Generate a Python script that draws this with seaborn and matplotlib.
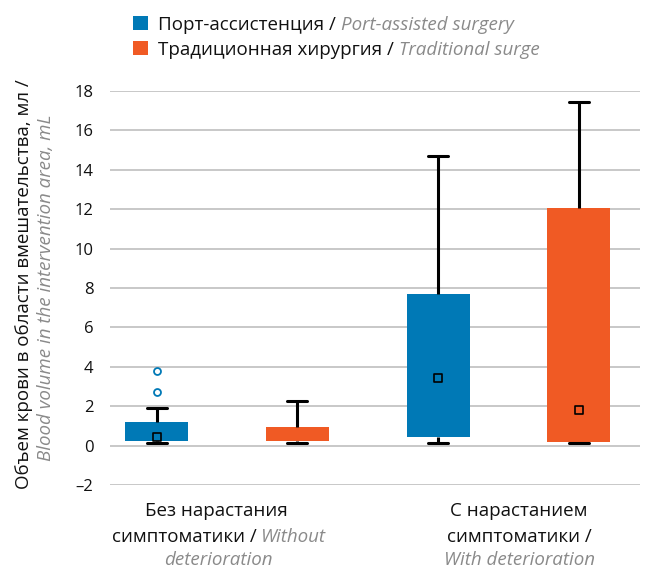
import matplotlib
matplotlib.use("Agg")
import matplotlib.pyplot as plt
import seaborn as sns
import numpy as np
from matplotlib.patches import Rectangle

# ---------------- data ----------------
group_labels = [
    [[("Без нарастания", "k", "normal")],
     [("симптоматики /", "k", "normal"), ("Without", "g", "italic")],
     [("deterioration", "g", "italic")]],
    [[("С нарастанием", "k", "normal")],
     [("симптоматики /", "k", "normal")],
     [("With deterioration", "g", "italic")]],
]
series_ru = ["Порт-ассистенция", "Традиционная хирургия"]
series_en = ["Port-assisted surgery", "Traditional surge"]
colors = ["#0079B6", "#F05A24"]

port_q1 = [0.22, 0.42]
port_q3 = [1.18, 7.71]
port_lo = [0.12, 0.13]
port_hi = [1.91, 14.70]
port_mean = [0.44, 3.43]
port_fliers = [[2.74, 3.80], []]

trad_q1 = [0.22, 0.20]
trad_q3 = [0.96, 12.07]
trad_lo = [0.12, 0.13]
trad_hi = [2.25, 17.44]
trad_mean = [np.nan, 1.79]
trad_fliers = [[], []]

yticks = list(range(-2, 19, 2))
ytick_labels = [("–" + str(abs(v))) if v < 0 else str(v) for v in yticks]
ylabel_ru = "Объем крови в области вмешательства, мл /"
ylabel_en = "Blood volume in the intervention area, mL"

# ---------------- style ----------------
sns.set_theme(style="white")
plt.rcParams["font.family"] = ["Open Sans", "DejaVu Sans"]
GRAY = "#8A8A8A"
TXT = 13.5
W, H = 649, 568
fig = plt.figure(figsize=(W / 100, H / 100), dpi=100)

def fx(px):
    return px / W

def fy(py):
    return 1 - py / H

ax = fig.add_axes([fx(110), fy(485), fx(640) - fx(110), fy(91) - fy(485)])
ax.set_ylim(-2, 18)
ax.set_xlim(-0.4156, 1.467)
for s in ax.spines.values():
    s.set_visible(False)
ax.set_yticks(yticks)
ax.set_yticklabels(ytick_labels, fontsize=12, color="#111111")
ax.tick_params(axis="y", length=0, pad=12)
ax.set_xticks([])
ax.grid(axis="y", color="#C4C4C4", linewidth=1.3)
ax.set_axisbelow(True)

offset = 0.249
box_w = 0.224
cap_w = 0.071
all_series = [
    (port_q1, port_q3, port_lo, port_hi, port_mean, port_fliers),
    (trad_q1, trad_q3, trad_lo, trad_hi, trad_mean, trad_fliers),
]
for si, (q1, q3, lo, hi, mn, fl) in enumerate(all_series):
    pos = [g + (offset if si else -offset) for g in range(len(q1))]
    stats = []
    for i in range(len(q1)):
        stats.append(dict(q1=q1[i], q3=q3[i], med=q1[i], whislo=lo[i],
                          whishi=hi[i], fliers=fl[i]))
    ax.bxp(stats, positions=pos, widths=box_w, patch_artist=True,
           showmeans=False, showfliers=True, capwidths=cap_w,
           boxprops=dict(facecolor=colors[si], edgecolor="none", linewidth=0),
           medianprops=dict(linewidth=0),
           whiskerprops=dict(color="black", linewidth=2.2, solid_capstyle="butt"),
           capprops=dict(color="black", linewidth=2.2),
           flierprops=dict(marker="o", markerfacecolor="white",
                           markeredgecolor=colors[si], markersize=5,
                           markeredgewidth=1.3),
           manage_ticks=False)
    ax.scatter(pos, mn, marker="s", s=30, facecolor=colors[si],
               edgecolor="black", linewidth=1.2, zorder=5)

# ---------------- text helpers ----------------
renderer = fig.canvas.get_renderer()

def measure(s, size, style):
    t = fig.text(0, 0, s, fontsize=size, style=style)
    w = t.get_window_extent(renderer).width
    t.remove()
    return w

def mixed_line(segments, x, y, size, center=True):
    gap = measure("n n", size, "normal") - measure("nn", size, "normal")
    texts, widths = [], []
    for s, c, st in segments:
        col = "#111111" if c == "k" else GRAY
        t = fig.text(0, 0, s, color=col, style=st, fontsize=size,
                     va="baseline", ha="left")
        widths.append(t.get_window_extent(renderer).width)
        texts.append(t)
    total = sum(widths) + gap * (len(widths) - 1)
    start = x - total / 2 if center else x
    for t, w in zip(texts, widths):
        t.set_position((fx(start), fy(y)))
        start += w + gap

# legend
leg_base = [30, 55]
for i in range(2):
    fig.patches.append(Rectangle((fx(133), fy(leg_base[i])), fx(15), 14 / H,
                                 transform=fig.transFigure, facecolor=colors[i],
                                 edgecolor="none"))
    mixed_line([(series_ru[i] + " /", "k", "normal"), (series_en[i], "g", "italic")],
               158, leg_base[i], TXT, center=False)

# x labels
label_cx = [[216, 219, 218], [519, 519, 520]]
line_base = [516.5, 541.5, 565]
for g, lines in enumerate(group_labels):
    for li, segs in enumerate(lines):
        mixed_line(segs, label_cx[g][li], line_base[li], TXT)

# y label
fig.text(fx(24), fy(284), ylabel_ru, rotation=90, ha="center", va="center",
         fontsize=TXT, color="#111111")
fig.text(fx(46), fy(288), ylabel_en, rotation=90, ha="center", va="center",
         fontsize=TXT, color=GRAY, style="italic")

fig.savefig("out.png", dpi=100)
